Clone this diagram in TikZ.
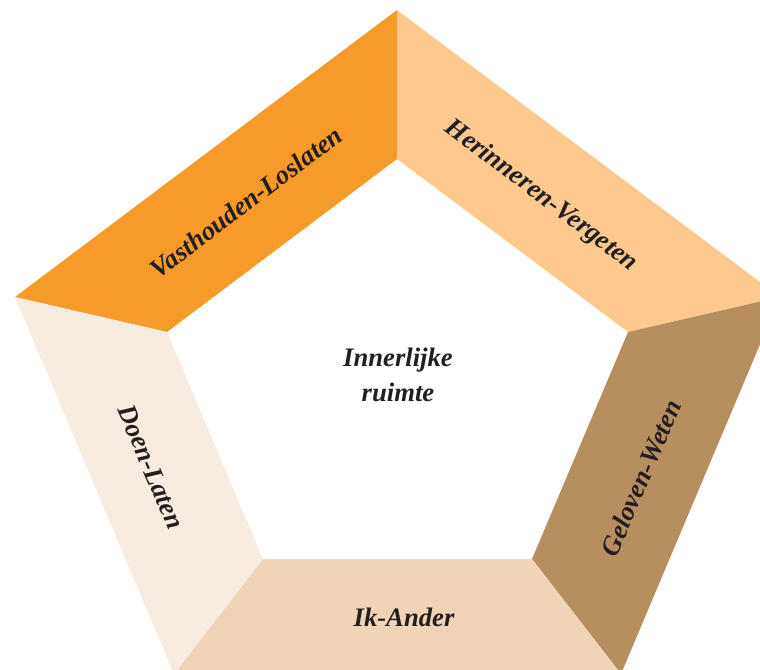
\documentclass[tikz,border=0pt]{standalone}
\usepackage{fontspec}
\setmainfont{Liberation Serif}
\usepackage{tikz}
\usetikzlibrary{calc}
\tikzstyle{lbl} = [font=\fontsize{20}{26}\selectfont\bfseries\itshape, text={rgb, 255:red, 35; green, 31; blue, 32 }, inner sep=0.75pt, align=center]

\begin{document}
\begin{tikzpicture}[x=0.75pt,y=0.75pt,yscale=-1,xscale=1]
\useasboundingbox (0,0) rectangle (760,670);
\clip (0,0) rectangle (760,670);

% outer corners of the frame
\coordinate (o1) at (397,10);
\coordinate (o2) at (780,297);
\coordinate (o3) at (621,674);
\coordinate (o4) at (174,674);
\coordinate (o5) at (15,297);
% inner corners
\coordinate (i1) at (397,159);
\coordinate (i2) at (628,332);
\coordinate (i3) at (532,559);
\coordinate (i4) at (263,559);
\coordinate (i5) at (167,332);

%Shape: Polygon [top left]
\fill [fill={rgb, 255:red, 246; green, 154; blue, 41 }] (o5) -- (o1) -- (i1) -- (i5) -- cycle ;
%Shape: Polygon [top right]
\fill [fill={rgb, 255:red, 253; green, 201; blue, 142 }] (o1) -- (o2) -- (i2) -- (i1) -- cycle ;
%Shape: Polygon [right]
\fill [fill={rgb, 255:red, 183; green, 143; blue, 94 }] (o2) -- (o3) -- (i3) -- (i2) -- cycle ;
%Shape: Polygon [bottom]
\fill [fill={rgb, 255:red, 239; green, 212; blue, 182 }] (o3) -- (o4) -- (i4) -- (i3) -- cycle ;
%Shape: Polygon [left]
\fill [fill={rgb, 255:red, 248; green, 235; blue, 223 }] (o4) -- (o5) -- (i5) -- (i4) -- cycle ;

% Text Node
\draw (246,202) node [lbl, rotate=37] (vast) {Vasthouden-Loslaten};
% Text Node
\draw (541,196) node [lbl, rotate=-37] (herin) {Herinneren-Vergeten};
% Text Node
\draw (641,478) node [lbl, rotate=67] (gelo) {Geloven-Weten};
% Text Node
\draw (404,617) node [lbl] (ik) {Ik-Ander};
% Text Node
\draw (151,467) node [lbl, rotate=-67] (doen) {Doen-Laten};
% Text Node
\draw (398,375) node [lbl] (ruimte) {Innerlijke\\ruimte};

\end{tikzpicture}
\end{document}
